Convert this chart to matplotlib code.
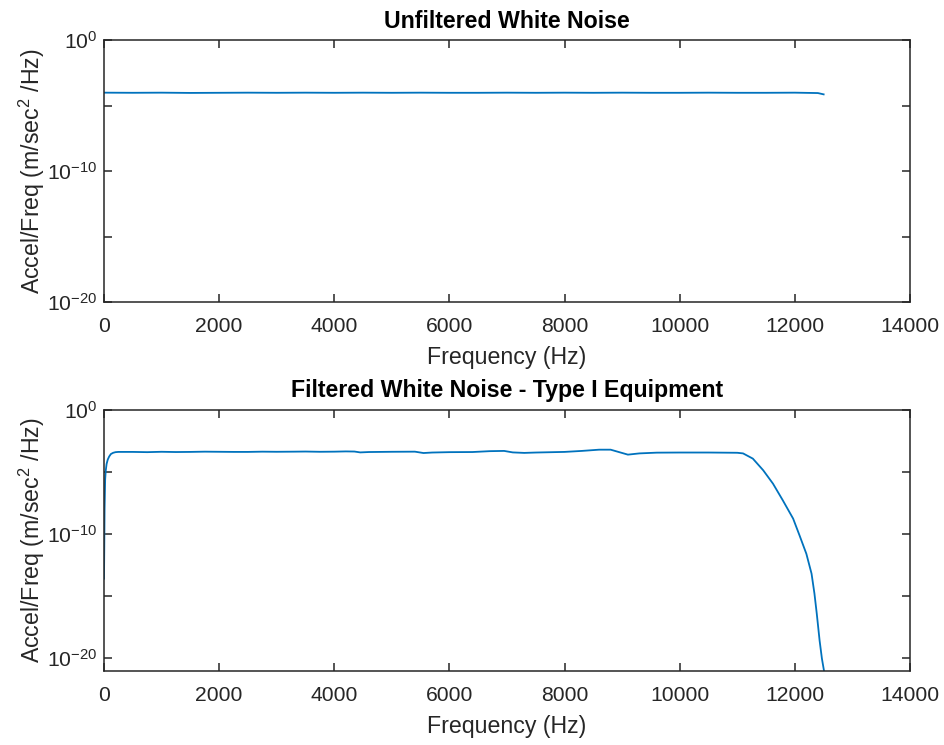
import numpy as np
import matplotlib
matplotlib.use("Agg")
import matplotlib.pyplot as plt
from matplotlib.ticker import FixedLocator, FixedFormatter

plt.rcParams['font.family'] = ['Liberation Sans', 'DejaVu Sans']
plt.rcParams['mathtext.default'] = 'regular'

# Unfiltered white noise PSD: frequency (Hz) and log10 level
raw_freq = [0, 500, 1000, 1500, 2000, 2500, 3000, 3500, 4000, 4500, 5000,
            5500, 6000, 6500, 7000, 7500, 8000, 8500, 9000, 9500, 10000,
            10500, 11000, 11500, 12000, 12400, 12500]
raw_log_psd = [-4.02, -4.03, -4.02, -4.04, -4.03, -4.02, -4.03, -4.02, -4.03, -4.02, -4.03,
               -4.02, -4.03, -4.03, -4.02, -4.03, -4.02, -4.03, -4.02, -4.03, -4.03,
               -4.02, -4.03, -4.03, -4.02, -4.05, -4.15]

# Filtered white noise PSD (Type I equipment): frequency (Hz) and log10 level
flt_freq = [0, 5, 10, 20, 30, 45, 65, 90, 120, 160, 200, 250,
            500, 750, 1000, 1250, 1500, 1750, 2000, 2250, 2500, 2750, 3000,
            3300, 3500, 3750, 4000, 4200, 4350, 4450, 4600, 5000, 5400, 5550,
            5700, 6000, 6400, 6700, 6950, 7100, 7300, 7500, 8000, 8300, 8600,
            8800, 8950, 9100, 9300, 9600, 10000, 10500, 11000, 11100, 11270,
            11450, 11620, 11790, 11970, 12080, 12200, 12290, 12340, 12380,
            12430, 12470, 12505]
flt_log_psd = [-13.6, -11.0, -8.0, -5.6, -4.9, -4.35, -4.0, -3.75, -3.55, -3.45, -3.40, -3.38,
               -3.38, -3.40, -3.37, -3.39, -3.38, -3.36, -3.37, -3.38, -3.38, -3.36, -3.37,
               -3.36, -3.35, -3.37, -3.36, -3.34, -3.35, -3.42, -3.39, -3.37, -3.36, -3.47,
               -3.43, -3.40, -3.39, -3.32, -3.30, -3.42, -3.46, -3.43, -3.38, -3.30, -3.20,
               -3.20, -3.40, -3.60, -3.50, -3.44, -3.43, -3.43, -3.45, -3.50, -3.92,
               -4.86, -5.94, -7.28, -8.76, -10.1, -11.6, -13.2, -14.8, -16.4,
               -18.6, -20.05, -21.0]

titles = ["Unfiltered White Noise", "Filtered White Noise - Type I Equipment"]
x_ticks = [0, 2000, 4000, 6000, 8000, 10000, 12000, 14000]
y_tick_exps = [-20, -15, -10, -5, 0]
y_tick_labels = [r'$10^{-20}$', '', r'$10^{-10}$', '', r'$10^{0}$']

line_color = '#0072BD'
spine_color = '#262626'

fig = plt.figure(figsize=(9.45, 7.45), dpi=100)
ax_top = fig.add_axes([104 / 945, 1 - 302 / 745, 806 / 945, 262 / 745])
ax_bot = fig.add_axes([104 / 945, 1 - 671 / 745, 806 / 945, 261 / 745])

series = [(raw_freq, raw_log_psd), (flt_freq, flt_log_psd)]
ylims = [(1e-20, 1e0), (10 ** -21.05, 1e0)]

for ax, (f, lp), title, ylim in zip([ax_top, ax_bot], series, titles, ylims):
    ax.semilogy(f, 10.0 ** np.array(lp), color=line_color, lw=1.3)
    ax.set_xlim(0, 14000)
    ax.set_ylim(*ylim)
    ax.xaxis.set_major_locator(FixedLocator(x_ticks))
    ax.set_xticklabels([str(t) for t in x_ticks])
    ax.yaxis.set_major_locator(FixedLocator([10.0 ** e for e in y_tick_exps]))
    ax.yaxis.set_major_formatter(FixedFormatter(y_tick_labels))
    ax.yaxis.set_minor_locator(FixedLocator([]))
    ax.tick_params(which='both', direction='in', top=True, right=True,
                   length=6, width=1.1, color=spine_color,
                   labelsize=15.2, labelcolor=spine_color)
    ax.tick_params(axis='x', pad=11)
    ax.tick_params(axis='y', pad=5)
    for sp in ax.spines.values():
        sp.set_color(spine_color)
        sp.set_linewidth(1.1)
    ax.set_xlabel("Frequency (Hz)", fontsize=16.7, color=spine_color, labelpad=7)
    ax.set_ylabel(r"Accel/Freq (m/sec$^2$ /Hz)", fontsize=16.7, color=spine_color, labelpad=0)
    ax.set_title(title, fontsize=16.7, fontweight='bold', color='black', pad=9)

fig.savefig("out.png", dpi=100)
